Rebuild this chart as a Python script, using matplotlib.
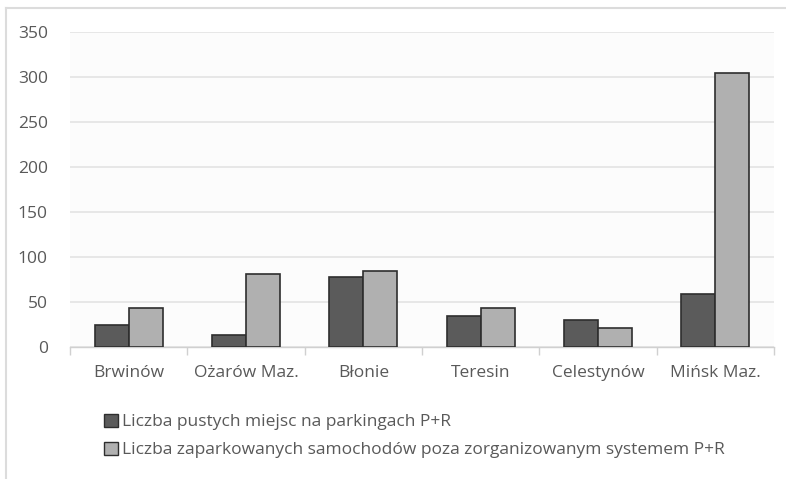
import numpy as np
import matplotlib
matplotlib.use("Agg")
import matplotlib.pyplot as plt
from matplotlib.lines import Line2D
from matplotlib.patches import Patch

# P+R parking survey data
stations = ["Brwinów", "Ożarów Maz.", "Błonie", "Teresin", "Celestynów", "Mińsk Maz."]
empty_spaces = [24, 13, 78, 34, 30, 59]
parked_outside = [43, 81, 85, 43, 21, 305]
series_labels = [
    "Liczba pustych miejsc na parkingach P+R",
    "Liczba zaparkowanych samochodów poza zorganizowanym systemem P+R",
]
y_ticks = [0, 50, 100, 150, 200, 250, 300, 350]

DARK = "#5b5b5b"
LIGHT = "#b0b0b0"
EDGE = "#2e2e2e"
TEXT = "#595959"
GRID = "#e3e3e3"

plt.rcParams["font.family"] = ["Open Sans", "DejaVu Sans"]

fig = plt.figure(figsize=(7.86, 4.79), dpi=100)
fig.patch.set_facecolor("white")

ax = fig.add_axes([70 / 786, 1 - 347 / 479, (774 - 70) / 786, (347 - 32) / 479])
ax.set_facecolor("#fcfcfc")

x = np.arange(len(stations))
w = 0.29
ax.bar(x - w / 2, empty_spaces, w, color=DARK, edgecolor=EDGE, linewidth=1.2, zorder=3)
ax.bar(x + w / 2, parked_outside, w, color=LIGHT, edgecolor=EDGE, linewidth=1.2, zorder=3)

ax.set_xlim(-0.5, len(stations) - 0.5)
ax.set_ylim(0, 350)
ax.set_yticks(y_ticks)
ax.yaxis.grid(True, color=GRID, linewidth=1.2, zorder=0)

ax.set_xticks(x)
ax.set_xticklabels(stations, fontsize=12.5, color=TEXT)
ax.set_xticks(np.arange(-0.5, len(stations)), minor=True)
ax.tick_params(axis="x", which="major", length=0, pad=13)
ax.tick_params(axis="x", which="minor", length=6, color="#d0d0d0", width=1)
ax.tick_params(axis="y", length=0, labelsize=12.5, labelcolor=TEXT, pad=16)

for side in ["top", "right", "left"]:
    ax.spines[side].set_visible(False)
ax.spines["bottom"].set_color("#d0d0d0")
ax.spines["bottom"].set_linewidth(1)

handles = [
    Patch(facecolor=DARK, edgecolor=EDGE, label=series_labels[0]),
    Patch(facecolor=LIGHT, edgecolor=EDGE, label=series_labels[1]),
]
fig.legend(
    handles=handles,
    loc="upper left",
    bbox_to_anchor=(88 / 786, 1 - 398 / 479),
    frameon=False,
    fontsize=12.5,
    labelcolor=TEXT,
    handlelength=0.8,
    handleheight=0.8,
    handletextpad=0.25,
    labelspacing=0.65,
)

# outer chart frame (left and top edges)
fig.add_artist(Line2D([6 / 786, 6 / 786], [0, 1 - 8 / 479], color="#dcdcdc", lw=1.5))
fig.add_artist(Line2D([6 / 786, 1], [1 - 8 / 479, 1 - 8 / 479], color="#dcdcdc", lw=1.5))

plt.savefig("out.png", dpi=100)
plt.close()
